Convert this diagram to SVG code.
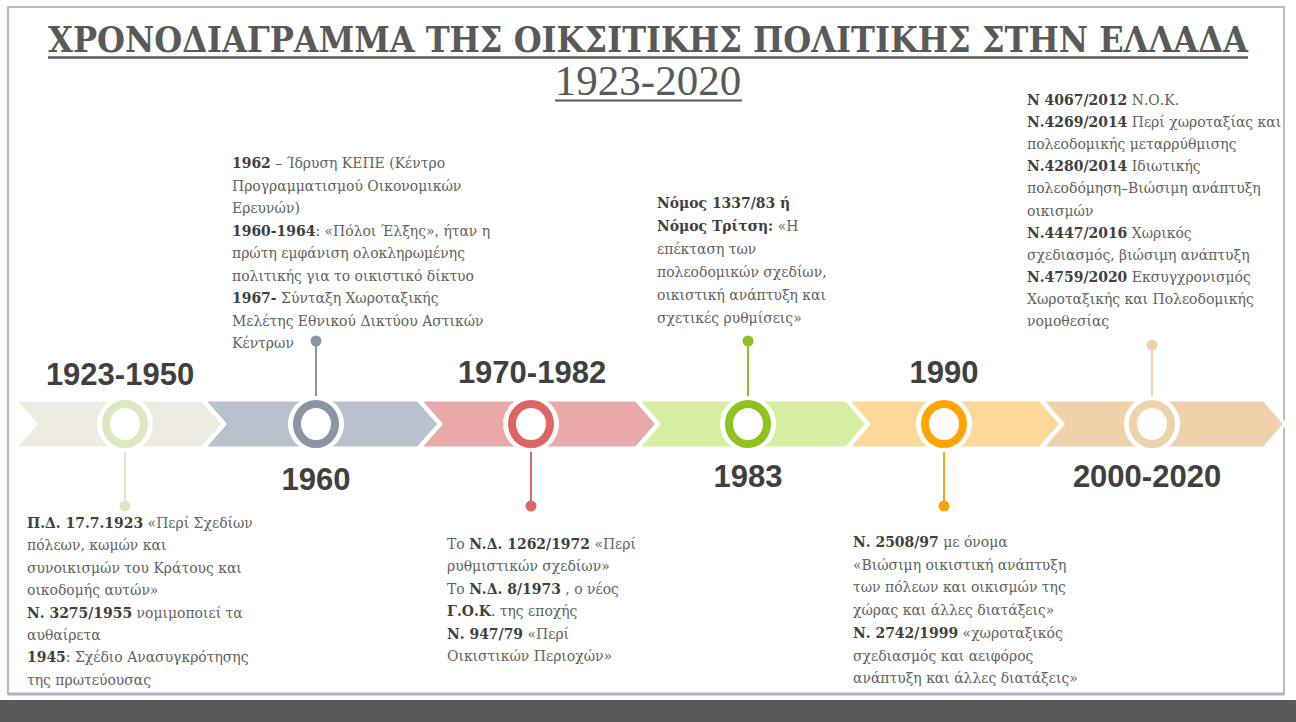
<svg xmlns="http://www.w3.org/2000/svg" width="1296" height="722" viewBox="0 0 1296 722">
<style>
.t{font-family:"DejaVu Serif Condensed","DejaVu Serif","Liberation Serif",serif;font-stretch:condensed;font-size:15.5px;fill:#5f5f5f}
.b{font-weight:bold;fill:#404040}
.yr{font-family:"Liberation Sans",Arial,sans-serif;font-weight:bold;font-size:31px;fill:#404040;text-anchor:middle}
.chev{stroke:#ffffff;stroke-width:3;stroke-linejoin:miter}
.halo{fill:#ffffff}
.stem{stroke-width:2;fill:none}
</style>
<defs>
<clipPath id="slide"><rect x="8" y="7" width="1276" height="687"/></clipPath>
</defs>
<rect x="0" y="0" width="1296" height="722" fill="#ffffff"/>
<rect x="0" y="700" width="1296" height="22" fill="#595959"/>
<rect x="8" y="7" width="1276" height="687" fill="#ffffff" stroke="#b3bccb" stroke-width="2"/>
<line x1="8" y1="694" x2="1284" y2="694" stroke="#a9b3c4" stroke-width="3"/>

<g id="title">
<text x="648" y="52" text-anchor="middle" textLength="1200" lengthAdjust="spacingAndGlyphs" style="font-family:'DejaVu Serif Condensed','DejaVu Serif',serif;font-stretch:condensed;font-weight:bold;font-size:36px;fill:#595959">ΧΡΟΝΟΔΙΑΓΡΑΜΜΑ ΤΗΣ ΟΙΚΣΙΤΙΚΗΣ ΠΟΛΙΤΙΚΗΣ ΣΤΗΝ ΕΛΛΑΔΑ</text>
<line x1="48" y1="57.5" x2="1248" y2="57.5" stroke="#595959" stroke-width="2.5"/>
<text x="648" y="95" text-anchor="middle" style="font-family:'Liberation Serif','Times New Roman',serif;font-size:43px;fill:#595959">1923-2020</text>
<line x1="555" y1="100.5" x2="742" y2="100.5" stroke="#595959" stroke-width="2"/>
</g>

<g id="band">
<polygon class="chev" fill="#eeece1" points="15,400 202,400 223,424 202,448 15,448 36,424"/>
<polygon class="chev" fill="#b9c1cf" points="204,400 418,400 439,424 418,448 204,448 225,424"/>
<polygon class="chev" fill="#eaa9a9" points="420,400 636,400 657,424 636,448 420,448 441,424"/>
<polygon class="chev" fill="#d6eea1" points="638,400 846,400 867,424 846,448 638,448 659,424"/>
<polygon class="chev" fill="#fed899" points="848,400 1040,400 1061,424 1040,448 848,448 869,424"/>
<polygon class="chev" fill="#efd2aa" points="1042,400 1264,400 1285,424 1264,448 1042,448 1063,424"/>
</g>

<g id="connectors">
<line class="stem" stroke="#d9e7c0" x1="125" y1="448" x2="125" y2="506"/>
<line class="stem" stroke="#8a94a4" x1="316" y1="400" x2="316" y2="342"/>
<line class="stem" stroke="#dd6565" x1="531" y1="448" x2="531" y2="506"/>
<line class="stem" stroke="#8dc21f" x1="748" y1="400" x2="748" y2="342"/>
<line class="stem" stroke="#ffa61a" x1="944" y1="448" x2="944" y2="506"/>
<line class="stem" stroke="#efd2aa" x1="1152" y1="400" x2="1152" y2="346"/>
</g>

<g id="node-1923">
<circle class="halo" cx="125" cy="424" r="28"/>
<ellipse cx="125" cy="424" rx="19" ry="20" fill="#ffffff" stroke="#dbe8c2" stroke-width="8"/>
<circle cx="125" cy="506" r="5.5" fill="#dbe8c2"/>
<text class="yr" x="120" y="385">1923-1950</text>
</g>
<g id="node-1960">
<circle class="halo" cx="316" cy="424" r="28"/>
<ellipse cx="316" cy="424" rx="19" ry="20" fill="#ffffff" stroke="#8a94a4" stroke-width="8"/>
<circle cx="316" cy="341" r="5.5" fill="#8a94a4"/>
<text class="yr" x="316" y="490">1960</text>
</g>
<g id="node-1970">
<circle class="halo" cx="531" cy="424" r="28"/>
<ellipse cx="531" cy="424" rx="19" ry="20" fill="#ffffff" stroke="#dd6565" stroke-width="8"/>
<circle cx="531" cy="506" r="5.5" fill="#dd6565"/>
<text class="yr" x="532" y="383">1970-1982</text>
</g>
<g id="node-1983">
<circle class="halo" cx="748" cy="424" r="28"/>
<ellipse cx="748" cy="424" rx="19" ry="20" fill="#ffffff" stroke="#8dc21f" stroke-width="8"/>
<circle cx="748" cy="341" r="5.5" fill="#8dc21f"/>
<text class="yr" x="748" y="487">1983</text>
</g>
<g id="node-1990">
<circle class="halo" cx="944" cy="424" r="28"/>
<ellipse cx="944" cy="424" rx="19" ry="20" fill="#ffffff" stroke="#ffa500" stroke-width="8"/>
<circle cx="944" cy="506" r="5.5" fill="#ffa500"/>
<text class="yr" x="944" y="383">1990</text>
</g>
<g id="node-2000">
<circle class="halo" cx="1152" cy="424" r="28"/>
<ellipse cx="1152" cy="424" rx="19" ry="20" fill="#ffffff" stroke="#efd2aa" stroke-width="8"/>
<circle cx="1152" cy="345" r="5.5" fill="#efd2aa"/>
<text class="yr" x="1147" y="487">2000-2020</text>
</g>

<g id="text-1923">
<text class="t" x="27" y="528"><tspan class="b">Π.Δ. 17.7.1923</tspan> «Περί Σχεδίων</text>
<text class="t" x="27" y="550.4">πόλεων, κωμών και</text>
<text class="t" x="27" y="572.8">συνοικισμών του Κράτους και</text>
<text class="t" x="27" y="595.2">οικοδομής αυτών»</text>
<text class="t" x="27" y="617.6"><tspan class="b">Ν. 3275/1955</tspan> νομιμοποιεί τα</text>
<text class="t" x="27" y="640">αυθαίρετα</text>
<text class="t" x="27" y="662.4"><tspan class="b">1945</tspan>: Σχέδιο Ανασυγκρότησης</text>
<text class="t" x="27" y="684.8">της πρωτεύουσας</text>
</g>

<g id="text-1960">
<text class="t" x="232" y="168"><tspan class="b">1962</tspan> – Ίδρυση ΚΕΠΕ  (Κέντρο</text>
<text class="t" x="232" y="190.5">Προγραμματισμού  Οικονομικών</text>
<text class="t" x="232" y="213">Ερευνών)</text>
<text class="t" x="232" y="235.5"><tspan class="b">1960-1964</tspan>: «Πόλοι Έλξης», ήταν η</text>
<text class="t" x="232" y="258">πρώτη εμφάνιση  ολοκληρωμένης</text>
<text class="t" x="232" y="280.5">πολιτικής για το οικιστικό δίκτυο</text>
<text class="t" x="232" y="303"><tspan class="b">1967-</tspan> Σύνταξη  Χωροταξικής</text>
<text class="t" x="232" y="325.5">Μελέτης Εθνικού Δικτύου Αστικών</text>
<text class="t" x="232" y="348">Κέντρων</text>
</g>

<g id="text-1970">
<text class="t" x="447" y="549">Το <tspan class="b">Ν.Δ. 1262/1972</tspan> «Περί</text>
<text class="t" x="447" y="571.4">ρυθμιστικών  σχεδίων»</text>
<text class="t" x="447" y="593.8">Το <tspan class="b">Ν.Δ. 8/1973</tspan> , ο νέος</text>
<text class="t" x="447" y="616.2"><tspan class="b">Γ.Ο.Κ</tspan>. της εποχής</text>
<text class="t" x="447" y="638.6"><tspan class="b">Ν. 947/79</tspan>  «Περί</text>
<text class="t" x="447" y="661">Οικιστικών Περιοχών»</text>
</g>

<g id="text-1983">
<text class="t" x="657" y="208"><tspan class="b">Νόμος 1337/83 ή</tspan></text>
<text class="t" x="657" y="231"><tspan class="b">Νόμος Τρίτση:</tspan>  «Η</text>
<text class="t" x="657" y="254">επέκταση των</text>
<text class="t" x="657" y="277">πολεοδομικών σχεδίων,</text>
<text class="t" x="657" y="300">οικιστική ανάπτυξη και</text>
<text class="t" x="657" y="323">σχετικές ρυθμίσεις»</text>
</g>

<g id="text-1990">
<text class="t" x="853" y="547"><tspan class="b">Ν. 2508/97</tspan> με όνομα</text>
<text class="t" x="853" y="569.7">«Βιώσιμη  οικιστική ανάπτυξη</text>
<text class="t" x="853" y="592.4">των πόλεων και οικισμών της</text>
<text class="t" x="853" y="615.1">χώρας και άλλες διατάξεις»</text>
<text class="t" x="853" y="637.8"><tspan class="b">Ν. 2742/1999</tspan> «χωροταξικός</text>
<text class="t" x="853" y="660.5">σχεδιασμός και αειφόρος</text>
<text class="t" x="853" y="683.2">ανάπτυξη και άλλες διατάξεις»</text>
</g>

<g id="text-2000" clip-path="url(#slide)">
<text class="t" x="1027" y="105"><tspan class="b">Ν 4067/2012</tspan> Ν.Ο.Κ.</text>
<text class="t" x="1027" y="127.1"><tspan class="b">Ν.4269/2014</tspan> Περί χωροταξίας και</text>
<text class="t" x="1027" y="149.2">πολεοδομικής μεταρρύθμισης</text>
<text class="t" x="1027" y="171.3"><tspan class="b">Ν.4280/2014</tspan> Ιδιωτικής</text>
<text class="t" x="1027" y="193.4">πολεοδόμηση–Βιώσιμη  ανάπτυξη</text>
<text class="t" x="1027" y="215.5">οικισμών</text>
<text class="t" x="1027" y="237.6"><tspan class="b">Ν.4447/2016</tspan> Χωρικός</text>
<text class="t" x="1027" y="259.7">σχεδιασμός, βιώσιμη ανάπτυξη</text>
<text class="t" x="1027" y="281.8"><tspan class="b">Ν.4759/2020</tspan> Εκσυγχρονισμός</text>
<text class="t" x="1027" y="303.9">Χωροταξικής και Πολεοδομικής</text>
<text class="t" x="1027" y="326">νομοθεσίας</text>
</g>
</svg>
